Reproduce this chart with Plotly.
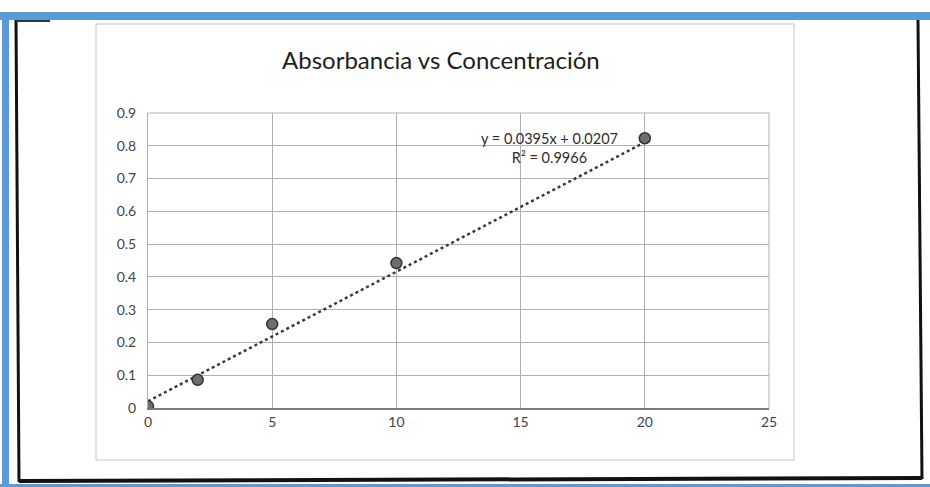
import plotly.graph_objects as go

# Calibration data: concentration vs absorbance
concentracion = [0, 2, 5, 10, 20]
absorbancia = [0.005, 0.086, 0.256, 0.442, 0.823]

# Linear trendline coefficients shown on the chart
pendiente = 0.0395
intercepto = 0.0207
r2 = 0.9966

x_ticks = [0, 5, 10, 15, 20, 25]
y_ticks = [0, 0.1, 0.2, 0.3, 0.4, 0.5, 0.6, 0.7, 0.8, 0.9]

W, H = 930, 487
PL, PR, PT, PB = 148, 769, 113, 408  # plot area in pixels


def px(x):
    return (x - PL) / (PR - PL)


def py(y):
    return (PB - y) / (PB - PT)


trend_x = [concentracion[0], concentracion[-1]]
trend_y = [pendiente * v + intercepto for v in trend_x]

fig = go.Figure()
fig.add_trace(go.Scatter(
    x=trend_x, y=trend_y, mode="lines",
    line=dict(color="#3a3a3a", width=2.5, dash="dot"),
    hoverinfo="skip", showlegend=False,
))
fig.add_trace(go.Scatter(
    x=concentracion, y=absorbancia, mode="markers",
    marker=dict(size=11, color="#6e6e6e", line=dict(color="#333333", width=1.5)),
    showlegend=False,
))

shapes = []
# chart frame
shapes.append(dict(type="rect", xref="paper", yref="paper",
                   x0=px(96), x1=px(794), y0=py(460), y1=py(24),
                   line=dict(color="#c4c4c4", width=1), layer="below"))
# black page border
blk = dict(color="#111111", width=3)
shapes.append(dict(type="line", xref="paper", yref="paper", x0=px(16), x1=px(19), y0=py(20), y1=py(482), line=blk))
shapes.append(dict(type="line", xref="paper", yref="paper", x0=px(918), x1=px(922), y0=py(20), y1=py(479), line=blk))
shapes.append(dict(type="line", xref="paper", yref="paper", x0=px(19), x1=px(922), y0=py(481), y1=py(478), line=dict(color="#111111", width=4)))
shapes.append(dict(type="line", xref="paper", yref="paper", x0=px(16), x1=px(50), y0=py(21), y1=py(21), line=dict(color="#333333", width=2)))
# blue outer border
blue = "#5b9bd5"
shapes.append(dict(type="rect", xref="paper", yref="paper", x0=px(0), x1=px(930), y0=py(20), y1=py(12),
                   fillcolor=blue, line=dict(width=0)))
shapes.append(dict(type="rect", xref="paper", yref="paper", x0=px(2), x1=px(9), y0=py(487), y1=py(12),
                   fillcolor=blue, line=dict(width=0)))
shapes.append(dict(type="rect", xref="paper", yref="paper", x0=px(0), x1=px(930), y0=py(487), y1=py(484),
                   fillcolor=blue, line=dict(width=0)))

annotations = [
    dict(text="Absorbancia vs Concentración", xref="paper", yref="paper",
         x=px(441), y=py(60), xanchor="center", yanchor="middle", showarrow=False,
         font=dict(family="Lato", size=24, color="#1e1e1e")),
    dict(text=f"y = {pendiente}x + {intercepto}<br>R² = {r2}", xref="paper", yref="paper",
         x=px(549), y=py(148), xanchor="center", yanchor="middle", align="center",
         showarrow=False, font=dict(family="Lato", size=14.5, color="#2e2e2e")),
]

fig.update_layout(
    width=W, height=H,
    margin=dict(l=PL, r=W - PR, t=PT, b=H - PB, pad=0),
    paper_bgcolor="white", plot_bgcolor="white",
    shapes=shapes, annotations=annotations,
    xaxis=dict(range=[0, 25], tickvals=x_ticks, ticktext=[str(v) for v in x_ticks],
               showgrid=True, gridcolor="#b0b0b0", gridwidth=1,
               zeroline=False, showline=True, linecolor="#7a7a7a", linewidth=1.5,
               mirror=False, ticks="", fixedrange=True,
               tickfont=dict(family="Lato", size=14, color="#444444")),
    yaxis=dict(range=[0, 0.9], tickvals=y_ticks, ticktext=[f"{v:g}" for v in y_ticks],
               showgrid=True, gridcolor="#b0b0b0", gridwidth=1,
               zeroline=False, showline=True, linecolor="#b0b0b0", linewidth=1,
               mirror=False, ticks="", ticklabelstandoff=8, fixedrange=True,
               tickfont=dict(family="Lato", size=14, color="#444444")),
)
# right and top plot edges
fig.add_shape(type="line", xref="paper", yref="paper", x0=1, x1=1, y0=0, y1=1,
              line=dict(color="#b0b0b0", width=1))
fig.add_shape(type="line", xref="paper", yref="paper", x0=0, x1=1, y0=1, y1=1,
              line=dict(color="#b0b0b0", width=1))

fig.write_html("out.html")
